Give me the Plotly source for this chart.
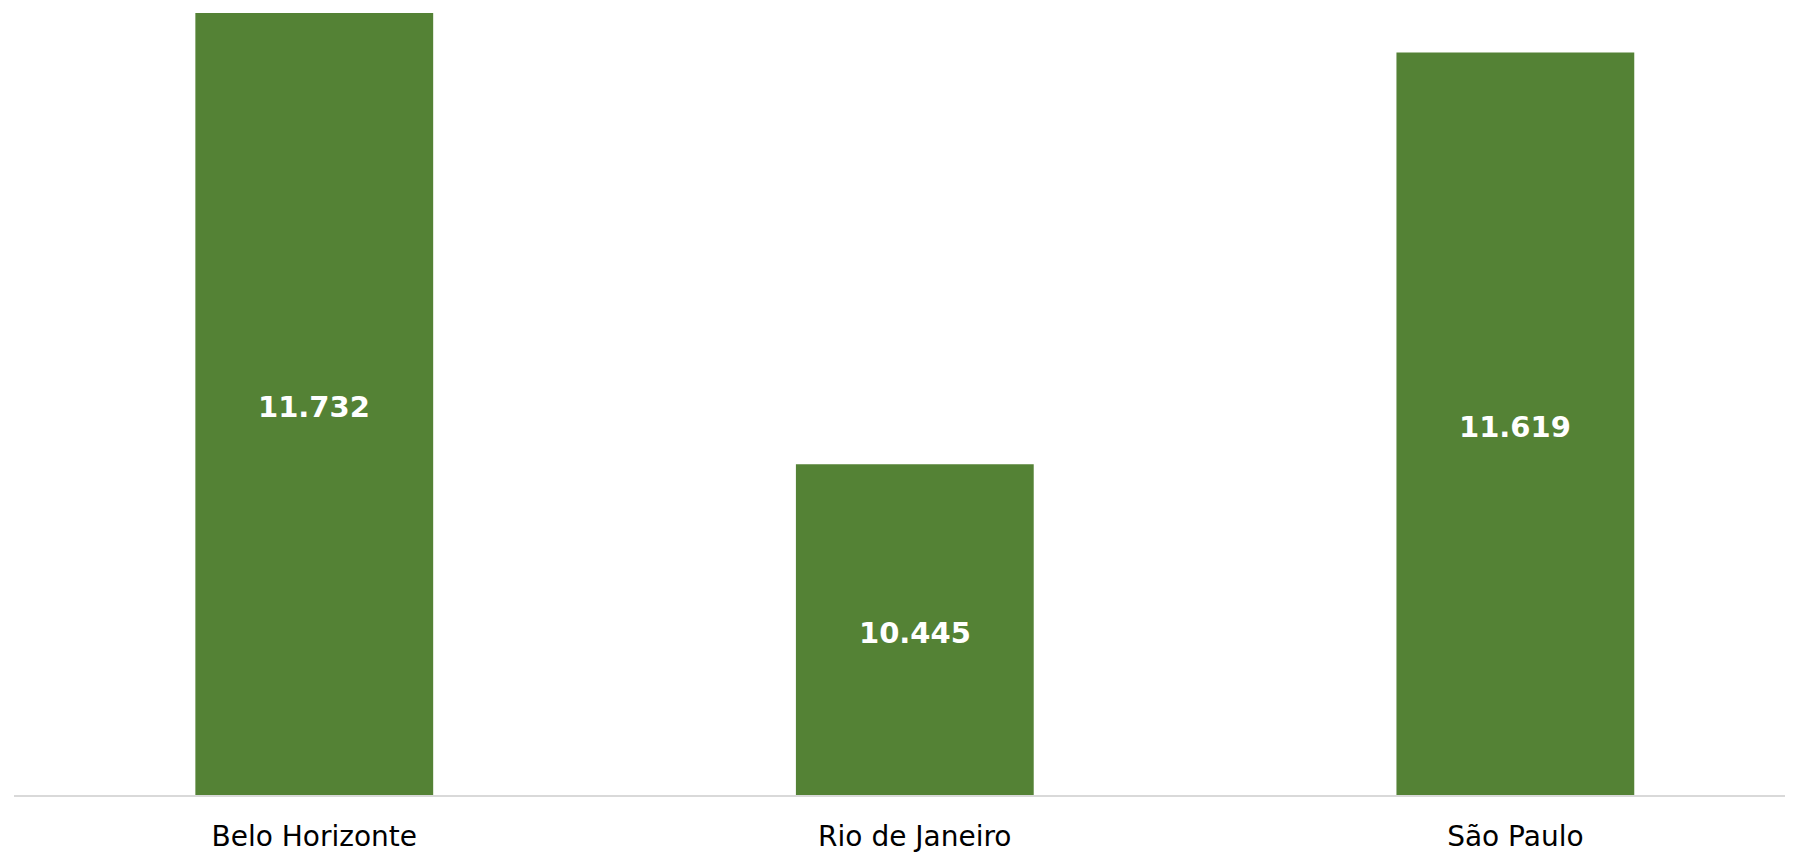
import plotly.graph_objects as go

categories = ["Belo Horizonte", "Rio de Janeiro", "São Paulo"]
values = [11.732, 10.445, 11.619]
labels = ["11.732", "10.445", "11.619"]

y_min, y_max = 9.502, 11.746

fig = go.Figure(go.Bar(
    x=categories, y=values,
    marker=dict(color="#548235", line=dict(width=0)),
    width=0.396,
    hoverinfo="skip",
))
for c, v, t in zip(categories, values, labels):
    fig.add_annotation(
        x=c, y=(y_min + v) / 2, xref="x", yref="y", text=t, showarrow=False,
        yshift=-3,
        font=dict(family="DejaVu Sans", size=29, color="white", weight="bold"),
    )
fig.update_layout(
    width=1777, height=845,
    margin=dict(l=6, r=0, t=0, b=58),
    paper_bgcolor="white", plot_bgcolor="white",
    showlegend=False,
    xaxis=dict(range=[-0.5, 2.449], showline=True, linecolor="#d9d9d9", linewidth=2,
               ticks="", ticklabelstandoff=15,
               tickfont=dict(family="DejaVu Sans", size=28, color="black"),
               showgrid=False, automargin=False),
    yaxis=dict(range=[y_min, y_max], visible=False, showgrid=False, zeroline=False),
)
fig.write_html("out.html")
